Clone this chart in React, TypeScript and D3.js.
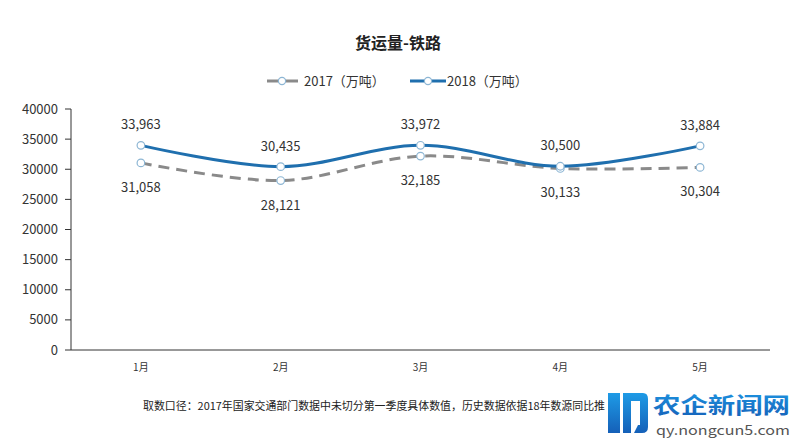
import React from "react";
import * as d3 from "d3";

const months = ["1月", "2月", "3月", "4月", "5月"];
const v2017 = [31058, 28121, 32185, 30133, 30304];
const v2018 = [33963, 30435, 33972, 30500, 33884];
const yTicks = [0, 5000, 10000, 15000, 20000, 25000, 30000, 35000, 40000];
const seriesNames = ["2017（万吨）", "2018（万吨）"];

const W = 800, H = 441;
const font = "'Microsoft YaHei', 'Noto Sans CJK SC', sans-serif";

export default function App() {
  const x = d3.scaleBand().domain(months).range([71, 770]);
  const y = d3.scaleLinear().domain([0, 40000]).range([350, 109]);
  const cx = (m: string) => (x(m) as number) + x.bandwidth() / 2;
  const line = d3
    .line<number>()
    .x((_, i) => cx(months[i]))
    .y((d) => y(d))
    .curve(d3.curveCatmullRom.alpha(0.5));
  const fmt = d3.format(",");
  const c17 = "#8a8a8a";
  const c18 = "#1f6fae";
  const mk = "#8db6d4";

  return (
    <svg width={W} height={H} style={{ position: "absolute", left: 0, top: 0, background: "#fff" }} fontFamily={font}>
      <defs>
        <linearGradient id="wm" x1="0" y1="0" x2="0" y2="1">
          <stop offset="0" stopColor="#1e9be6" />
          <stop offset="1" stopColor="#1560b8" />
        </linearGradient>
      </defs>
      <rect width={W} height={H} fill="#fff" />
      <text x={398} y={49} textAnchor="middle" fontSize={16} fontWeight="bold" fill="#222">货运量-铁路</text>
      {/* legend */}
      <g>
        <line x1={267} x2={298} y1={81} y2={81} stroke={c17} strokeWidth={3} />
        <circle cx={282} cy={81} r={3.6} fill="#fff" stroke={mk} strokeWidth={1.2} />
        <text x={304} y={86} fontSize={13} fill="#333">{seriesNames[0]}</text>
        <line x1={410} x2={446} y1={81} y2={81} stroke={c18} strokeWidth={3} />
        <circle cx={428} cy={81} r={3.6} fill="#fff" stroke={mk} strokeWidth={1.2} />
        <text x={447} y={86} fontSize={13} fill="#333">{seriesNames[1]}</text>
      </g>
      {/* axes */}
      <line x1={71} x2={71} y1={y(40000)} y2={350} stroke="#333" strokeWidth={1} />
      <line x1={71} x2={770} y1={350} y2={350} stroke="#333" strokeWidth={1} />
      {yTicks.map((t) => (
        <g key={t}>
          <line x1={65} x2={71} y1={y(t)} y2={y(t)} stroke="#333" />
          <text x={58} y={y(t) + 4.5} textAnchor="end" fontSize={13} fill="#333">{t}</text>
        </g>
      ))}
      {months.map((m) => (
        <text key={m} x={cx(m)} y={371} textAnchor="middle" fontSize={10} fill="#333">{m}</text>
      ))}
      {/* lines */}
      <path d={line(v2017) || ""} fill="none" stroke={c17} strokeWidth={3} strokeDasharray="11,7" />
      <path d={line(v2018) || ""} fill="none" stroke={c18} strokeWidth={3} />
      {v2017.map((v, i) => (
        <g key={"a" + i}>
          <circle cx={cx(months[i])} cy={y(v)} r={3.8} fill="#fff" stroke={mk} strokeWidth={1.2} />
          <text x={cx(months[i])} y={y(v) + 29} textAnchor="middle" fontSize={13} fill="#333">{fmt(v)}</text>
        </g>
      ))}
      {v2018.map((v, i) => (
        <g key={"b" + i}>
          <circle cx={cx(months[i])} cy={y(v)} r={3.8} fill="#fff" stroke={mk} strokeWidth={1.2} />
          <text x={cx(months[i])} y={y(v) - 16} textAnchor="middle" fontSize={13} fill="#333">{fmt(v)}</text>
        </g>
      ))}
      {/* footnote */}
      <text x={143} y={410} fontSize={11} fill="#222" textLength={462} lengthAdjust="spacingAndGlyphs">取数口径：2017年国家交通部门数据中未切分第一季度具体数值，历史数据依据18年数源同比推</text>
      {/* watermark */}
      <g>
        <path d="M608,393 L620,393 L620,433 L608,433 Z M623,393 L643,393 Q648,393 648,399 L648,427 Q648,433 642,433 L634,433 L638,425 L640,425 L640,401 L631,401 L631,433 L623,433 Z" fill="url(#wm)" />
        <text x={653} y={413} fontSize={22} fontWeight="bold" fill="url(#wm)" textLength={137} lengthAdjust="spacingAndGlyphs">农企新闻网</text>
        <text x={656} y={435} fontSize={13} fill="#555" textLength={134} lengthAdjust="spacingAndGlyphs">qy.nongcun5.com</text>
      </g>
    </svg>
  );
}
